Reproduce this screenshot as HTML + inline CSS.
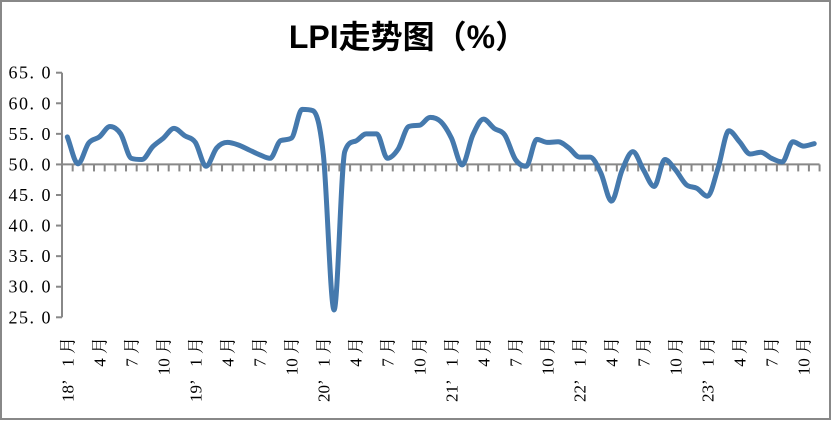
<!DOCTYPE html>
<html><head><meta charset="utf-8"><style>
html,body{margin:0;padding:0;background:#fff}
svg{display:block}
</style></head><body>
<svg id="chart" width="832" height="421" viewBox="0 0 832 421" xmlns="http://www.w3.org/2000/svg">
<rect x="1" y="1" width="829" height="418" fill="#fff" stroke="#888" stroke-width="2"/>
<text x="408" y="48" text-anchor="middle" font-family="'Liberation Sans','Noto Sans CJK SC',sans-serif" font-weight="bold" font-size="32" fill="#000">LPI走势图（%）</text>
<g id="axes"></g>
<g id="plot"></g>
</svg>
<script>
const yTicks=[25,30,35,40,45,50,55,60,65];
const values=[54.5,50.1,53.5,54.5,56.2,55.0,51.0,50.8,52.9,54.3,55.9,54.7,53.6,49.7,52.7,53.6,53.2,52.4,51.6,51.0,53.9,54.3,59.0,58.8,51.5,26.2,52.1,53.8,55.0,55.0,51.0,52.5,56.2,56.4,57.7,57.0,54.3,49.9,54.8,57.4,55.9,54.8,50.8,49.7,54.1,53.6,53.7,52.7,51.2,51.2,48.6,44.0,49.1,52.1,49.1,46.4,50.8,49.1,46.7,46.1,44.8,49.5,55.5,53.7,51.7,52.0,51.0,50.4,53.7,53.0,53.4];
const years=["18’","19’","20’","21’","22’","23’"];
const monthLabels=["1月","4月","7月","10月"];
const NS="http://www.w3.org/2000/svg";
const x0=62,cw=10.67,yTop=72.7,yBot=317.3,vMin=25,vMax=65;
function X(i){return x0+cw*(i+0.5);}
function Y(v){return yBot-(v-vMin)/(vMax-vMin)*(yBot-yTop);}
function mk(tag,attrs,parent){const e=document.createElementNS(NS,tag);for(const k in attrs)e.setAttribute(k,attrs[k]);parent.appendChild(e);return e;}
const axes=document.getElementById('axes'),plot=document.getElementById('plot');
const serif="'Liberation Serif','Noto Serif CJK SC',serif";
const ya=mk('line',{x1:x0,x2:x0,y1:yTop,y2:yBot,stroke:'#888','stroke-width':2},axes);


yTicks.forEach(v=>{
  const t=mk('line',{x1:x0-6,x2:x0,y1:Y(v),y2:Y(v),stroke:'#888','stroke-width':2},axes);
  
  
  const l=mk('text',{x:x0-10,y:Y(v)+6,'text-anchor':'end','font-family':serif,'font-size':18,fill:'#000','letter-spacing':'1.5'},axes);
  l.textContent=v.toFixed(1).replace('.','. ');
  
  
});
const n=values.length, yb=Y(50);
const xa=mk('line',{x1:x0,x2:x0+cw*n,y1:yb,y2:yb,stroke:'#888','stroke-width':2},axes);


for(let i=1;i<=n;i++){
  const t=mk('line',{x1:x0+cw*i,x2:x0+cw*i,y1:yb,y2:yb+7,stroke:'#888','stroke-width':2},axes);
  
  
}
for(let i=0;i<n;i+=3){
  const m=monthLabels[(i%12)/3];
  const tx=X(i)+6, ty=337;
  const l=mk('text',{x:tx,y:ty,'text-anchor':'end','font-family':serif,'font-size':17,fill:'#000',transform:`rotate(-90 ${tx} ${ty})`},axes);
  l.textContent=m.replace(/(\d+)/,'$1 ');
  
  
  if(i%12===0){
    const yl=mk('text',{x:tx,y:402,'text-anchor':'start','font-family':serif,'font-size':17,fill:'#000',transform:`rotate(-90 ${tx} 402)`},axes);
    yl.textContent=years[i/12];
    
    
  }
}
// monotone cubic smoothing
const pts=values.map((v,i)=>[X(i),Y(v)]);
const N=pts.length, dl=[], m=[];
for(let i=0;i<N-1;i++)dl.push((pts[i+1][1]-pts[i][1])/cw);
m[0]=dl[0];m[N-1]=dl[N-2];
for(let i=1;i<N-1;i++){m[i]=(dl[i-1]*dl[i]<=0)?0:(dl[i-1]+dl[i])/2;}
for(let i=0;i<N-1;i++){if(dl[i]===0){m[i]=0;m[i+1]=0;continue;}const a=m[i]/dl[i],b=m[i+1]/dl[i],s=a*a+b*b;if(s>9){const t=3/Math.sqrt(s);m[i]=t*a*dl[i];m[i+1]=t*b*dl[i];}}
let d=`M${pts[0][0]},${pts[0][1]}`;
for(let i=0;i<N-1;i++){
  const h=cw/3;
  d+=` C${pts[i][0]+h},${pts[i][1]+m[i]*h} ${pts[i+1][0]-h},${pts[i+1][1]-m[i+1]*h} ${pts[i+1][0]},${pts[i+1][1]}`;
}
const line=mk('path',{d:d,fill:'none',stroke:'#4579ad','stroke-width':5,'stroke-linejoin':'round','stroke-linecap':'round'},plot);


</script>
</body></html>
